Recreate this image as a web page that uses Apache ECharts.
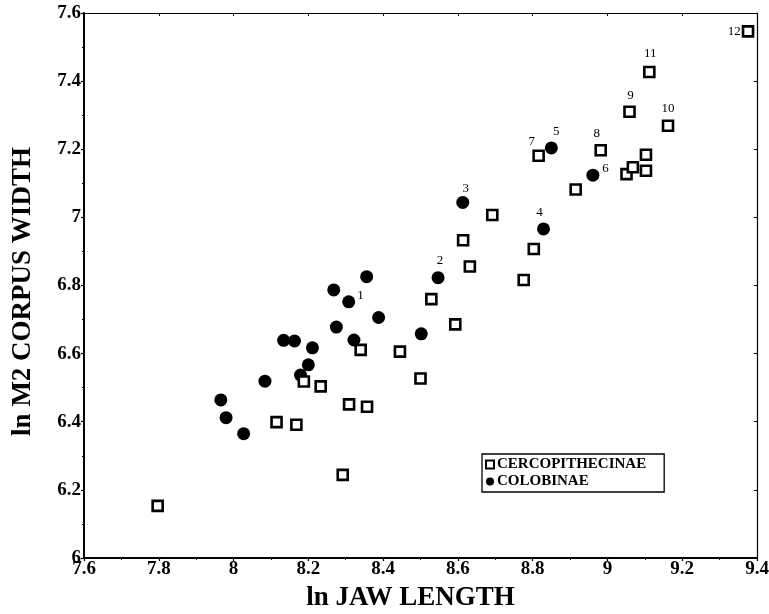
<!DOCTYPE html>
<html>
<head>
<meta charset="utf-8">
<script src="https://cdn.jsdelivr.net/npm/echarts@6/dist/echarts.min.js"></script>
<style>html,body{margin:0;padding:0;background:#fff;}#c{width:769px;height:614px;}</style>
</head>
<body>
<div id="c"></div>
<script>
// Cercopithecinae (open squares)
var cercX = [7.797, 8.115, 8.168, 8.188, 8.233, 8.292, 8.309, 8.340, 8.357, 8.445, 8.500, 8.529, 8.593, 8.614, 8.632, 8.692, 8.776, 8.803, 8.816, 8.915, 8.982, 9.051, 9.059, 9.068, 9.103, 9.103, 9.112, 9.162, 9.376];
var cercY = [6.153, 6.399, 6.391, 6.518, 6.504, 6.244, 6.451, 6.611, 6.444, 6.606, 6.527, 6.760, 6.686, 6.933, 6.856, 7.007, 6.816, 6.907, 7.181, 7.082, 7.197, 7.127, 7.310, 7.147, 7.184, 7.137, 7.427, 7.269, 7.546];
var cercLabel = ['', '', '', '', '', '', '', '', '', '', '', '', '', '', '', '', '', '', '7', '', '8', '', '9', '', '', '', '11', '10', '12'];
// Colobinae (filled circles)
var colobX = [7.966, 7.980, 8.027, 8.084, 8.134, 8.163, 8.179, 8.200, 8.211, 8.268, 8.275, 8.308, 8.322, 8.356, 8.388, 8.502, 8.547, 8.613, 8.829, 8.850, 8.961];
var colobY = [6.464, 6.412, 6.365, 6.519, 6.639, 6.637, 6.537, 6.567, 6.617, 6.787, 6.678, 6.752, 6.640, 6.826, 6.706, 6.658, 6.823, 7.044, 6.966, 7.204, 7.124];
var colobLabel = ['', '', '', '', '', '', '', '', '', '', '', '1', '', '', '', '', '2', '3', '4', '5', '6'];
var seriesNames = ['CERCOPITHECINAE', 'COLOBINAE'];
var xName = 'ln JAW LENGTH';
var yName = 'ln M2 CORPUS WIDTH';

// label placement (style only)
var labelPos = {
  '1': {position: 'right', offset: [-1, -6], distance: 3},
  '2': {position: 'top', offset: [2, -1], distance: 3},
  '3': {position: 'top', offset: [3, 2], distance: 3},
  '4': {position: 'top', offset: [-4, 0], distance: 3},
  '5': {position: 'top', offset: [5, 0], distance: 3},
  '6': {position: 'right', offset: [0, -7], distance: 3},
  '7': {position: 'top', offset: [-7, 2], distance: 3},
  '8': {position: 'top', offset: [-4, -1], distance: 3},
  '9': {position: 'top', offset: [1, 0], distance: 3},
  '10': {position: 'top', offset: [0, -1], distance: 3},
  '11': {position: 'top', offset: [1, -3], distance: 3},
  '12': {position: 'left', offset: [1, 0], distance: 2}
};

function build(xs, ys, labs) {
  return xs.map(function (x, i) {
    var item = {value: [x, ys[i]]};
    if (labs[i]) {
      var p = labelPos[labs[i]];
      item.label = {show: true, formatter: labs[i], position: p.position, offset: p.offset, distance: p.distance};
    }
    return item;
  });
}

var serif = '"Liberation Serif", "DejaVu Serif", serif';
var labelStyle = {fontFamily: serif, fontSize: 13, color: '#000'};
var tickFont = {fontFamily: serif, fontSize: 19, fontWeight: 'bold', color: '#000'};

var chart = echarts.init(document.getElementById('c'));
chart.setOption({
  animation: false,
  backgroundColor: '#fff',
  grid: {left: 84, right: 12, top: 13, bottom: 56, show: false, outerBoundsMode: 'none', containLabel: false},
  legend: {
    orient: 'vertical',
    left: 482,
    top: 454,
    data: seriesNames,
    itemWidth: 8,
    itemHeight: 8,
    itemGap: 2,
    padding: [3, 18, 3, 3],
    borderColor: '#000',
    borderWidth: 1.3,
    borderRadius: 0,
    textStyle: {fontFamily: serif, fontSize: 15, fontWeight: 'bold', color: '#000', padding: [0, 0, 0, -2]}
  },
  xAxis: [{
    type: 'value', min: 7.6, max: 9.4, interval: 0.2,
    name: xName, nameLocation: 'middle', nameGap: 27,
    nameTextStyle: {fontFamily: serif, fontSize: 27, fontWeight: 'bold', color: '#000', padding: [0, 20, 0, 0]},
    axisLine: {show: true, onZero: false, lineStyle: {color: '#000', width: 2}},
    axisTick: {show: true, inside: false, length: 3, lineStyle: {color: '#000', width: 1.2}},
    minorTick: {show: true, splitNumber: 2, length: 2, lineStyle: {color: '#000', width: 1}},
    axisLabel: Object.assign({margin: 2}, tickFont),
    splitLine: {show: false}
  }, {
    type: 'value', min: 7.6, max: 9.4, interval: 0.2, position: 'top',
    axisLine: {show: true, onZero: false, lineStyle: {color: '#000', width: 1.2}},
    axisTick: {show: true, inside: true, length: 3, lineStyle: {color: '#000', width: 1}},
    axisLabel: {show: false}, splitLine: {show: false}
  }],
  yAxis: [{
    type: 'value', min: 6, max: 7.6, interval: 0.2,
    name: yName, nameLocation: 'middle', nameGap: 47, nameRotate: 90,
    nameTextStyle: {fontFamily: serif, fontSize: 27, fontWeight: 'bold', color: '#000', padding: [0, 12, 0, 0]},
    axisLine: {show: true, onZero: false, lineStyle: {color: '#000', width: 2}},
    axisTick: {show: true, inside: false, length: 3, lineStyle: {color: '#000', width: 1.2}},
    minorTick: {show: true, splitNumber: 2, length: 2, lineStyle: {color: '#000', width: 1}},
    axisLabel: Object.assign({margin: 3}, tickFont),
    splitLine: {show: false}
  }, {
    type: 'value', min: 6, max: 7.6, interval: 0.2, position: 'right',
    axisLine: {show: true, onZero: false, lineStyle: {color: '#000', width: 1.2}},
    axisTick: {show: true, inside: true, length: 3, lineStyle: {color: '#000', width: 1}},
    axisLabel: {show: false}, splitLine: {show: false}
  }],
  series: [{
    name: seriesNames[1], type: 'scatter', symbol: 'circle', symbolSize: 13,
    itemStyle: {color: '#000', opacity: 1},
    label: labelStyle,
    z: 2,
    data: build(colobX, colobY, colobLabel)
  }, {
    name: seriesNames[0], type: 'scatter', symbol: 'rect', symbolSize: 10,
    itemStyle: {color: '#fff', borderColor: '#000', borderWidth: 2.6, opacity: 1},
    label: labelStyle,
    z: 3,
    data: build(cercX, cercY, cercLabel)
  }]
});
</script>
</body>
</html>
